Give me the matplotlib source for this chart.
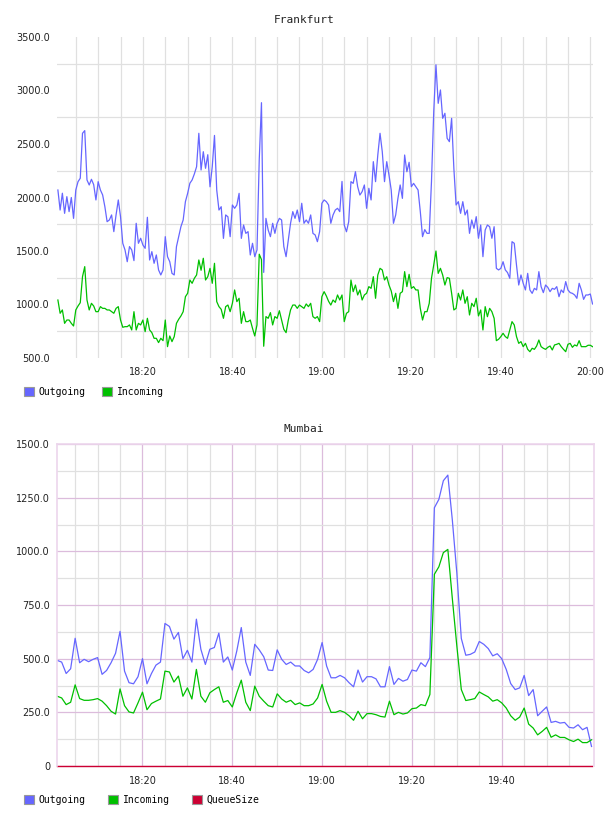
import matplotlib
matplotlib.use("Agg")
import matplotlib.pyplot as plt
from matplotlib.patches import Patch
import numpy as np

# Frankfurt: one sample every 30 s, minutes after 18:00
fra_minutes = np.arange(1, 121, 0.5)
fra_out = [2070, 1883, 2040, 1852, 2008, 1868, 2000, 1805, 2070, 2148, 2180, 2600, 2625, 2164, 2117, 2170,
           2120, 1977, 2148, 2070, 2024, 1914, 1774, 1790, 1837, 1681, 1837, 1977, 1820, 1572, 1510, 1400,
           1541, 1510, 1410, 1759, 1572, 1619, 1556, 1525, 1815, 1416, 1494, 1385, 1463, 1323, 1276, 1323,
           1634, 1447, 1400, 1291, 1276, 1541, 1634, 1728, 1790, 1961, 2039, 2133, 2164, 2220,
           2288, 2600, 2257, 2428, 2273, 2400, 2100, 2288, 2580, 2070, 1883, 1914, 1618, 1837, 1820, 1634,
           1930, 1899, 1930, 2039, 1618, 1743, 1665, 1681, 1463, 1572, 1447, 1510, 2350, 2886, 1300, 1805,
           1696, 1634, 1759, 1665, 1759, 1805, 1790, 1541, 1447, 1603, 1759, 1868, 1805, 1883, 1774, 1946,
           1759, 1790, 1759, 1837, 1665, 1650, 1587, 1681, 1946, 1977, 1961, 1930,
           1759, 1837, 1883, 1899, 1868, 2150, 1743, 1680, 1774, 2148, 2132, 2241, 2101, 2023, 2055, 2117,
           1899, 2086, 1977, 2335, 2148, 2397, 2600, 2428, 2148, 2335, 2210, 2070, 1759, 1837, 1992, 2117,
           1992, 2397, 2241, 2329, 2101, 2132, 2101, 2070, 1868, 1634, 1700, 1665, 1665, 2150, 2800, 3240,
           2880, 3005, 2740, 2787, 2553, 2522, 2740, 2273, 1930, 1961, 1852, 1961,
           1837, 1883, 1665, 1790, 1712, 1821, 1619, 1743, 1447, 1696, 1743, 1727, 1619, 1727, 1338, 1323,
           1338, 1400, 1323, 1298, 1245, 1587, 1572, 1369, 1182, 1276, 1198, 1136, 1291, 1136, 1104, 1151,
           1136, 1307, 1167, 1111, 1182, 1160, 1120, 1151, 1142, 1167, 1073, 1136, 1111, 1214, 1136, 1111,
           1104, 1089, 1058, 1198, 1136, 1048, 1089, 1089, 1098, 1005]
fra_in = [1042, 918, 949, 824, 855, 855, 824, 799, 949, 986, 1017, 1260, 1354, 1042, 949, 1011,
          986, 933, 933, 980, 964, 964, 949, 949, 933, 918, 964, 980, 855, 787, 793, 793,
          809, 762, 933, 762, 824, 809, 855, 746, 871, 762, 737, 684, 684, 644, 684, 662,
          855, 606, 706, 653, 700, 824, 862, 893, 933, 1073, 1105, 1229, 1198, 1245,
          1276, 1416, 1320, 1432, 1229, 1260, 1338, 1198, 1385, 1027, 980, 955, 871, 980, 995, 933,
          1011, 1136, 1027, 1058, 824, 933, 840, 840, 855, 777, 706, 809, 1470, 1420, 610, 887,
          871, 924, 809, 887, 871, 942, 855, 768, 737, 855, 949, 995, 995, 964, 995, 980,
          964, 1005, 980, 1011, 887, 871, 887, 840, 1073, 1120, 1080, 1030,
          995, 1042, 1020, 1089, 1042, 1089, 840, 918, 933, 1229, 1120, 1182, 1089, 1136, 1042, 1089,
          1105, 1167, 1151, 1260, 1058, 1276, 1338, 1323, 1229, 1260, 1182, 1127, 1027, 1105, 964, 1105,
          1120, 1307, 1167, 1282, 1151, 1167, 1136, 1136, 964, 855, 933, 933, 1011, 1245, 1369, 1500,
          1291, 1338, 1276, 1182, 1251, 1245, 1105, 949, 964, 1105, 1042, 1136,
          1011, 1073, 902, 1011, 980, 1058, 893, 949, 762, 980, 886, 964, 933, 871, 662, 675,
          700, 731, 700, 684, 762, 840, 809, 700, 637, 653, 606, 637, 581, 559, 591, 581,
          612, 668, 606, 591, 581, 600, 612, 575, 622, 628, 637, 606, 581, 559, 628, 637,
          600, 622, 612, 662, 606, 606, 606, 619, 619, 606]

# Mumbai: one sample per minute
mum_minutes = np.arange(1, 121)
mum_out = [492, 484, 431, 453, 595, 481, 497, 486, 497, 505, 427, 445, 481, 525, 627, 442, 388, 383, 416, 500,
           383, 431, 470, 484, 664, 650, 591, 622, 500, 539, 484, 684, 544, 473, 544, 552, 619, 484, 508, 447,
           536, 645, 484, 422, 567, 541, 509, 447, 445, 541, 497, 473, 484, 466, 466, 445, 434,
           450, 497, 575, 466, 411, 411, 422, 411, 388, 369, 447, 391, 416, 416, 406, 369, 369, 463, 380,
           408, 395, 403, 447, 442, 481, 463, 505,
           1203, 1242, 1329, 1355, 1146, 900,
           594, 516, 520, 531, 580, 567, 547, 513, 523, 500, 450, 384, 356, 364, 422, 328, 356, 234, 255, 275,
           203, 208, 200, 203, 180, 177, 192, 169, 180, 91]
mum_in = [325, 317, 286, 297, 378, 314, 306, 306, 309, 314, 302, 281, 255, 242, 359, 281, 252, 247, 294, 344,
          262, 291, 302, 312, 442, 438, 391, 419, 325, 364, 312, 450, 325, 297, 341, 356, 369, 297, 305, 275,
          341, 400, 297, 258, 372, 325, 302, 281, 275, 336, 312, 297, 306, 286, 294, 281, 281,
          289, 317, 380, 302, 250, 250, 258, 250, 234, 213, 255, 220, 244, 244, 239, 231, 228, 302, 239,
          250, 242, 247, 267, 270, 286, 281, 333,
          893, 928, 994, 1009, 780, 560,
          356, 305, 309, 314, 345, 333, 322, 302, 309, 294, 270, 234, 213, 228, 270, 195, 177, 145, 161, 180,
          134, 145, 133, 133, 122, 114, 125, 109, 109, 122]
mum_queue = [0] * 120

fra_yticks = [500, 1000, 1500, 2000, 2500, 3000, 3500]
fra_ylabels = ['500.0', '1000.0', '1500.0', '2000.0', '2500.0', '3000.0', '3500.0']
fra_xticks = [20, 40, 60, 80, 100, 120]
fra_xlabels = ['18:20', '18:40', '19:00', '19:20', '19:40', '20:00']
mum_yticks = [0, 250, 500, 750, 1000, 1250, 1500]
mum_ylabels = ['0', '250.0', '500.0', '750.0', '1000.0', '1250.0', '1500.0']
mum_xticks = [20, 40, 60, 80, 100]
mum_xlabels = ['18:20', '18:40', '19:00', '19:20', '19:40']

BLUE = '#6666ff'
GREEN = '#00c000'
RED = '#cc0033'
GRID = '#e0e0e0'
MAJOR = '#dcbcdc'
BORDER = '#ecd6ec'
mono = 'DejaVu Sans Mono'

fig = plt.figure(figsize=(6.08, 8.16), dpi=100)
ax1 = fig.add_axes([57 / 608, 1 - 358 / 816, 536 / 608, 321 / 816])
ax2 = fig.add_axes([57 / 608, 1 - 766 / 816, 537 / 608, 322 / 816])

# --- Frankfurt ---
ax1.plot(fra_minutes, fra_out, color=BLUE, lw=0.9)
ax1.plot(fra_minutes, fra_in, color=GREEN, lw=0.9)
ax1.set_xlim(0.8, 120.6)
ax1.set_ylim(500, 3500)
ax1.set_yticks(fra_yticks, fra_ylabels)
ax1.set_yticks(np.arange(750, 3500, 500), minor=True)
ax1.set_xticks(fra_xticks, fra_xlabels)
ax1.set_xticks(np.arange(5, 121, 5), minor=True)
ax1.grid(axis='x', which='both', color=GRID, lw=0.9)
ax1.grid(axis='y', which='minor', color=GRID, lw=0.9)
ax1.set_axisbelow(True)
for s in ax1.spines.values():
    s.set_visible(False)
ax1.tick_params(which='both', length=0, labelsize=7, colors='#222222')
ax1.tick_params(axis='x', pad=6.5)
ax1.tick_params(axis='y', pad=5)

# --- Mumbai ---
ax2.plot(mum_minutes, mum_out, color=BLUE, lw=0.9)
ax2.plot(mum_minutes, mum_in, color=GREEN, lw=0.9)
ax2.plot(mum_minutes, mum_queue, color=RED, lw=1.0, clip_on=False)
ax2.set_xlim(0.96, 120.55)
ax2.set_ylim(0, 1500)
ax2.set_yticks(mum_yticks, mum_ylabels)
ax2.set_yticks(np.arange(125, 1500, 250), minor=True)
ax2.set_xticks(mum_xticks, mum_xlabels)
ax2.set_xticks([m for m in range(5, 121, 5) if m % 20], minor=True)
ax2.grid(which='major', color=MAJOR, lw=0.9)
ax2.grid(which='minor', color=GRID, lw=0.9)
ax2.set_axisbelow(True)
for name, s in ax2.spines.items():
    s.set_color(BORDER)
    s.set_linewidth(1.2)
ax2.spines['bottom'].set_visible(False)
ax2.tick_params(which='both', length=0, labelsize=7, colors='#222222')
ax2.tick_params(axis='x', pad=7.5)
ax2.tick_params(axis='y', pad=5)

# titles
fig.text(0.5, 1 - 20 / 816, 'Frankfurt', ha='center', va='center', family=mono, size=8, color='#222222')
fig.text(0.5, 1 - 429 / 816, 'Mumbai', ha='center', va='center', family=mono, size=8, color='#222222')

# legends
leg_kw = dict(loc='center left', frameon=False, prop={'family': mono, 'size': 7},
              handlelength=1.0, handleheight=1.0, handletextpad=0.5,
              borderpad=0, borderaxespad=0)
h1 = [Patch(facecolor=BLUE, edgecolor='#999999', lw=0.8),
      Patch(facecolor=GREEN, edgecolor='#999999', lw=0.8)]
fig.legend(h1, ['Outgoing', 'Incoming'], bbox_to_anchor=(24 / 608, 1 - 392 / 816),
           ncol=2, columnspacing=1.7, **leg_kw)
h2 = h1 + [Patch(facecolor=RED, edgecolor='#999999', lw=0.8)]
fig.legend(h2, ['Outgoing', 'Incoming', 'QueueSize'], bbox_to_anchor=(24 / 608, 1 - 800 / 816),
           ncol=3, columnspacing=2.3, **leg_kw)

fig.savefig('out.png', dpi=100)
